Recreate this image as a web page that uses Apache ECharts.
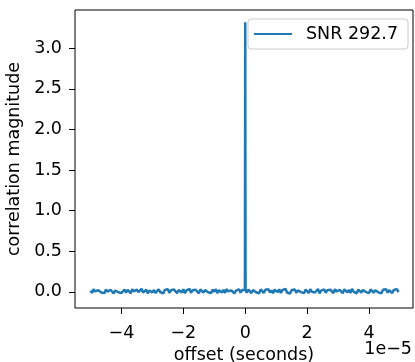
<!DOCTYPE html>
<html>
<head>
<meta charset="utf-8">
<script src="https://cdn.jsdelivr.net/npm/echarts@6/dist/echarts.min.js"></script>
<style>
html,body{margin:0;padding:0;background:#fff;}
#chart{width:415px;height:362px;}
</style>
</head>
<body>
<div id="chart"></div>
<script>
// offsets in units of 1e-5 seconds
const offsets = [
-5.00,-4.95,-4.90,-4.85,-4.80,-4.75,-4.70,-4.65,-4.60,-4.55,
-4.50,-4.45,-4.40,-4.35,-4.30,-4.25,-4.20,-4.15,-4.10,-4.05,
-4.00,-3.95,-3.90,-3.85,-3.80,-3.75,-3.70,-3.65,-3.60,-3.55,
-3.50,-3.45,-3.40,-3.35,-3.30,-3.25,-3.20,-3.15,-3.10,-3.05,
-3.00,-2.95,-2.90,-2.85,-2.80,-2.75,-2.70,-2.65,-2.60,-2.55,
-2.50,-2.45,-2.40,-2.35,-2.30,-2.25,-2.20,-2.15,-2.10,-2.05,
-2.00,-1.95,-1.90,-1.85,-1.80,-1.75,-1.70,-1.65,-1.60,-1.55,
-1.50,-1.45,-1.40,-1.35,-1.30,-1.25,-1.20,-1.15,-1.10,-1.05,
-1.00,-0.95,-0.90,-0.85,-0.80,-0.75,-0.70,-0.65,-0.60,-0.55,
-0.50,-0.45,-0.40,-0.35,-0.30,-0.25,-0.20,-0.15,-0.10,-0.05,
-0.01,0.00,0.01,
0.05,0.10,0.15,0.20,0.25,0.30,0.35,0.40,0.45,
0.50,0.55,0.60,0.65,0.70,0.75,0.80,0.85,0.90,0.95,
1.00,1.05,1.10,1.15,1.20,1.25,1.30,1.35,1.40,1.45,
1.50,1.55,1.60,1.65,1.70,1.75,1.80,1.85,1.90,1.95,
2.00,2.05,2.10,2.15,2.20,2.25,2.30,2.35,2.40,2.45,
2.50,2.55,2.60,2.65,2.70,2.75,2.80,2.85,2.90,2.95,
3.00,3.05,3.10,3.15,3.20,3.25,3.30,3.35,3.40,3.45,
3.50,3.55,3.60,3.65,3.70,3.75,3.80,3.85,3.90,3.95,
4.00,4.05,4.10,4.15,4.20,4.25,4.30,4.35,4.40,4.45,
4.50,4.55,4.60,4.65,4.70,4.75,4.80,4.85,4.90,4.95];
const magnitudes = [
0.014,-0.014,0.030,0.004,-0.020,0.019,0.034,-0.008,0.011,-0.017,
0.027,0.002,-0.012,0.024,0.006,-0.022,0.016,0.032,-0.006,0.018,
-0.015,0.009,0.028,-0.010,0.022,0.001,-0.018,0.031,0.005,-0.013,
0.025,-0.004,0.017,0.036,-0.011,0.004,0.026,-0.019,0.014,0.033,
-0.008,0.021,-0.014,0.010,0.029,-0.003,0.013,-0.021,0.023,0.003,
0.032,-0.012,0.018,-0.006,0.027,0.007,-0.016,0.022,0.011,-0.009,
0.030,-0.018,0.016,0.002,0.034,-0.013,0.020,-0.004,0.025,0.008,
-0.020,0.028,0.006,-0.011,0.021,0.037,-0.005,0.014,-0.015,0.026,
0.001,0.031,-0.017,0.017,0.010,-0.008,0.023,-0.014,0.033,0.004,
-0.010,0.018,0.028,-0.019,0.013,0.003,0.030,-0.012,0.021,0.008,
0.022,3.32,0.019,
-0.011,0.027,0.005,-0.016,0.022,0.035,-0.006,0.015,-0.020,0.029,
0.009,-0.013,0.025,0.002,0.032,-0.009,0.017,-0.018,0.026,0.011,
-0.004,0.030,-0.014,0.019,0.006,0.036,-0.010,0.014,-0.021,0.023,
0.003,0.028,-0.012,0.018,0.033,-0.005,0.012,-0.017,0.027,0.007,
-0.015,0.031,0.001,0.022,-0.009,0.015,0.034,-0.019,0.013,0.004,
0.029,-0.013,0.020,-0.003,0.026,0.010,-0.016,0.032,0.003,-0.011,
0.023,0.014,-0.018,0.030,0.007,-0.006,0.024,-0.014,0.035,0.002,
0.016,-0.020,0.027,0.008,-0.010,0.022,0.031,-0.004,0.012,-0.016,
0.028,0.005,-0.012,0.019,0.033,-0.007,0.015,-0.019,0.026,0.006,
0.030,-0.011,0.018,0.001,-0.015,0.023,0.010,0.032,-0.005];
const xTicks = [-4,-2,0,2,4];
const yTicks = [0,0.5,1.0,1.5,2.0,2.5,3.0];
const seriesName = 'SNR 292.7';
const xLabel = 'offset (seconds)';
const yLabel = 'correlation magnitude';
const offsetText = '1e\u22125';

const data = offsets.map((x,i)=>[x,magnitudes[i]]);
const FONT = 'DejaVu Sans';
const FS = 17.5;
const fmtX = v => v < 0 ? '\u2212' + Math.abs(v) : String(v);
const fmtY = v => v < 0 ? '\u2212' + Math.abs(v).toFixed(1) : v.toFixed(1);

const chart = echarts.init(document.getElementById('chart'), null, {renderer:'canvas'});
chart.setOption({
  animation:false,
  backgroundColor:'#fff',
  grid:{left:75,right:2,top:10,bottom:54,show:true,borderColor:'#000',borderWidth:1,outerBoundsMode:'none'},
  xAxis:{
    type:'value',min:-5.5,max:5.42,
    name:xLabel,nameLocation:'middle',nameGap:35,
    nameTextStyle:{fontFamily:FONT,fontSize:FS,color:'#000'},
    axisLine:{show:false,onZero:false},
    splitLine:{show:false},
    axisTick:{show:true,length:6,lineStyle:{color:'#000'},customValues:xTicks},
    axisLabel:{fontFamily:FONT,fontSize:FS,color:'#000',margin:16,customValues:xTicks,formatter:fmtX}
  },
  yAxis:{
    type:'value',min:-0.2,max:3.47,
    name:yLabel,nameLocation:'middle',nameGap:46,nameRotate:90,
    nameTextStyle:{fontFamily:FONT,fontSize:FS,color:'#000'},
    axisLine:{show:false,onZero:false},
    splitLine:{show:false},
    axisTick:{show:true,length:6,lineStyle:{color:'#000'},customValues:yTicks},
    axisLabel:{fontFamily:FONT,fontSize:FS,color:'#000',margin:13,customValues:yTicks,formatter:fmtY}
  },
  legend:{
    left:248,top:19,
    padding:[6,10,6,6],
    borderColor:'#ccc',borderWidth:1,borderRadius:3,
    backgroundColor:'rgba(255,255,255,0.8)',
    itemWidth:38,itemHeight:14,itemGap:5,
    textStyle:{fontFamily:FONT,fontSize:FS,color:'#000',padding:[0,0,0,9]},
    data:[{name:seriesName,icon:'path://M0,6 L38,6 L38,8 L0,8 Z'}]
  },
  graphic:[{
    type:'text',right:3,top:340,
    style:{text:offsetText,font:FS+'px "'+FONT+'"',fill:'#000'}
  }],
  series:[{
    name:seriesName,type:'line',data:data,symbol:'none',
    lineStyle:{color:'#1f77b4',width:2.5},itemStyle:{color:'#1f77b4'}
  }]
});
</script>
</body>
</html>
